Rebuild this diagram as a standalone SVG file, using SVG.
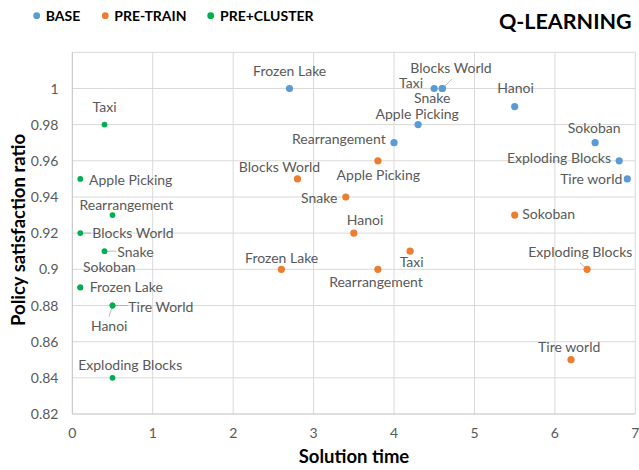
<svg xmlns="http://www.w3.org/2000/svg" width="639" height="470" viewBox="0 0 639 470">
  <style>
    text { font-family: Lato, "Liberation Sans", sans-serif; }
    .grid { stroke: #d9d9d9; stroke-width: 1; fill: none; }
    .tick { font-size: 14px; fill: #595959; }
    .lbl { font-size: 14px; fill: #595959; }
    .title { font-size: 18.5px; font-weight: bold; fill: #000; }
    .legend { font-size: 14px; font-weight: bold; fill: #000; }
    .base { fill: #5b9bd5; }
    .pre { fill: #ed7d31; }
    .clu { fill: #00b050; }
    .lead { stroke: #a6a6a6; stroke-width: 0.8; fill: none; }
    .mid { text-anchor: middle; }
    .end { text-anchor: end; }
  </style>

  <rect width="639" height="470" fill="#ffffff"/>

  <!-- chart title -->
  <text x="631.7" y="29.3" class="end" style="font-size:21.5px;font-weight:bold;fill:#000">Q-LEARNING</text>

  <!-- legend -->
  <g id="legend">
    <circle cx="36.7" cy="15.7" r="3.4" class="base"/>
    <text x="45.7" y="20.7" class="legend">BASE</text>
    <circle cx="105.3" cy="15.7" r="3.4" class="pre"/>
    <text x="114.3" y="20.7" class="legend">PRE-TRAIN</text>
    <circle cx="210.7" cy="15.7" r="3.4" class="clu"/>
    <text x="220" y="20.7" class="legend">PRE+CLUSTER</text>
  </g>

  <!-- gridlines: x = 72.3 + 80.43*t, y = 414 - 1808.5*(r - 0.82) -->
  <g id="grid" class="grid">
    <path d="M72.3 52.3H635.3M72.3 88.5H635.3M72.3 124.6H635.3M72.3 160.8H635.3M72.3 197H635.3M72.3 233.1H635.3M72.3 269.3H635.3M72.3 305.5H635.3M72.3 341.7H635.3M72.3 377.8H635.3"/>
    <path d="M152.7 52.3V414M233.2 52.3V414M313.6 52.3V414M394 52.3V414M474.5 52.3V414M554.9 52.3V414M635.3 52.3V414"/>
    <path d="M72.3 52.3V414H635.3" stroke="#bfbfbf"/>
  </g>

  <!-- axis tick labels -->
  <g id="y-ticks" class="tick end">
    <text x="58.5" y="93.5">1</text>
    <text x="58.5" y="129.6">0.98</text>
    <text x="58.5" y="165.8">0.96</text>
    <text x="58.5" y="202">0.94</text>
    <text x="58.5" y="238.1">0.92</text>
    <text x="58.5" y="274.3">0.9</text>
    <text x="58.5" y="310.5">0.88</text>
    <text x="58.5" y="346.7">0.86</text>
    <text x="58.5" y="382.8">0.84</text>
    <text x="58.5" y="419">0.82</text>
  </g>
  <g id="x-ticks" class="tick mid">
    <text x="72.3" y="437.5">0</text>
    <text x="152.7" y="437.5">1</text>
    <text x="233.2" y="437.5">2</text>
    <text x="313.6" y="437.5">3</text>
    <text x="394" y="437.5">4</text>
    <text x="474.5" y="437.5">5</text>
    <text x="554.9" y="437.5">6</text>
    <text x="635.3" y="437.5">7</text>
  </g>

  <!-- axis titles -->
  <text x="354" y="463.3" class="title mid">Solution time</text>
  <text transform="translate(24.7 230) rotate(-90)" class="title mid">Policy satisfaction ratio</text>

  <!-- label leader lines -->
  <g id="connectors" class="lead">
    <path d="M442.3 88.5L451.7 79.3"/>
    <path d="M587.1 269.3L580 262.7"/>
    <path d="M80.3 233.1H91"/>
    <path d="M104.5 251.2H116.5"/>
    <path d="M112.5 305.5H127.5"/>
    <path d="M112.5 305.5L109 316.7"/>
  </g>

  <!-- BASE series -->
  <g id="base">
    <g id="base-frozen-lake"><circle cx="289.5" cy="88.5" r="3.6" class="base"/><text x="289.7" y="76" class="lbl mid">Frozen Lake</text></g>
    <g id="base-taxi"><circle cx="434.2" cy="88.5" r="3.6" class="base"/><text x="423" y="88" class="lbl end">Taxi</text></g>
    <g id="base-blocks-world"><circle cx="442.3" cy="88.5" r="3.6" class="base"/><text x="451" y="73" class="lbl mid">Blocks World</text></g>
    <g id="base-snake"><circle cx="442.3" cy="88.5" r="3.6" class="base"/><text x="432.2" y="102.8" class="lbl mid">Snake</text></g>
    <g id="base-apple-picking"><circle cx="418.1" cy="124.6" r="3.6" class="base"/><text x="417.2" y="119" class="lbl mid">Apple Picking</text></g>
    <g id="base-rearrangement"><circle cx="394" cy="142.7" r="3.6" class="base"/><text x="385.7" y="144.3" class="lbl end">Rearrangement</text></g>
    <g id="base-hanoi"><circle cx="514.7" cy="106.6" r="3.6" class="base"/><text x="515.5" y="93.3" class="lbl mid">Hanoi</text></g>
    <g id="base-sokoban"><circle cx="595.1" cy="142.7" r="3.6" class="base"/><text x="594.2" y="132.7" class="lbl mid">Sokoban</text></g>
    <g id="base-exploding-blocks"><circle cx="619.2" cy="160.8" r="3.6" class="base"/><text x="611" y="163.3" class="lbl end">Exploding Blocks</text></g>
    <g id="base-tire-world"><circle cx="627.3" cy="178.9" r="3.6" class="base"/><text x="622.3" y="184.3" class="lbl end">Tire world</text></g>
  </g>

  <!-- PRE-TRAIN series -->
  <g id="pretrain">
    <g id="pre-apple-picking"><circle cx="377.9" cy="160.8" r="3.6" class="pre"/><text x="378.3" y="180" class="lbl mid">Apple Picking</text></g>
    <g id="pre-blocks-world"><circle cx="297.5" cy="178.9" r="3.6" class="pre"/><text x="279.5" y="171.7" class="lbl mid">Blocks World</text></g>
    <g id="pre-snake"><circle cx="345.8" cy="197" r="3.6" class="pre"/><text x="337.3" y="202.7" class="lbl end">Snake</text></g>
    <g id="pre-hanoi"><circle cx="353.8" cy="233.1" r="3.6" class="pre"/><text x="365" y="225" class="lbl mid">Hanoi</text></g>
    <g id="pre-sokoban"><circle cx="514.7" cy="215.1" r="3.6" class="pre"/><text x="522.3" y="219.3" class="lbl">Sokoban</text></g>
    <g id="pre-frozen-lake"><circle cx="281.4" cy="269.3" r="3.6" class="pre"/><text x="281.7" y="262.7" class="lbl mid">Frozen Lake</text></g>
    <g id="pre-taxi"><circle cx="410.1" cy="251.2" r="3.6" class="pre"/><text x="411.7" y="266.7" class="lbl mid">Taxi</text></g>
    <g id="pre-rearrangement"><circle cx="377.9" cy="269.3" r="3.6" class="pre"/><text x="376" y="287.3" class="lbl mid">Rearrangement</text></g>
    <g id="pre-exploding-blocks"><circle cx="587.1" cy="269.3" r="3.6" class="pre"/><text x="580.3" y="256.7" class="lbl mid">Exploding Blocks</text></g>
    <g id="pre-tire-world"><circle cx="571" cy="359.7" r="3.6" class="pre"/><text x="569.2" y="352.3" class="lbl mid">Tire world</text></g>
  </g>

  <!-- PRE+CLUSTER series -->
  <g id="cluster">
    <g id="clu-taxi"><circle cx="104.5" cy="124.6" r="2.9" class="clu"/><text x="104.6" y="111.7" class="lbl mid">Taxi</text></g>
    <g id="clu-apple-picking"><circle cx="80.3" cy="178.9" r="2.9" class="clu"/><text x="89" y="185" class="lbl">Apple Picking</text></g>
    <g id="clu-rearrangement"><circle cx="112.5" cy="215.1" r="2.9" class="clu"/><text x="126.3" y="210" class="lbl mid">Rearrangement</text></g>
    <g id="clu-blocks-world"><circle cx="80.3" cy="233.1" r="2.9" class="clu"/><text x="92.3" y="238.3" class="lbl">Blocks World</text></g>
    <g id="clu-snake"><circle cx="104.5" cy="251.2" r="2.9" class="clu"/><text x="117.3" y="256.7" class="lbl">Snake</text></g>
    <g id="clu-sokoban"><circle cx="80.3" cy="287.4" r="2.9" class="clu"/><text x="109.3" y="271.7" class="lbl mid">Sokoban</text></g>
    <g id="clu-frozen-lake"><circle cx="80.3" cy="287.4" r="2.9" class="clu"/><text x="89.7" y="291.7" class="lbl">Frozen Lake</text></g>
    <g id="clu-tire-world"><circle cx="112.5" cy="305.5" r="2.9" class="clu"/><text x="128.3" y="311.7" class="lbl">Tire World</text></g>
    <g id="clu-hanoi"><circle cx="112.5" cy="305.5" r="2.9" class="clu"/><text x="109.2" y="330.7" class="lbl mid">Hanoi</text></g>
    <g id="clu-exploding-blocks"><circle cx="112.5" cy="377.8" r="2.9" class="clu"/><text x="130.2" y="370" class="lbl mid">Exploding Blocks</text></g>
  </g>
</svg>
